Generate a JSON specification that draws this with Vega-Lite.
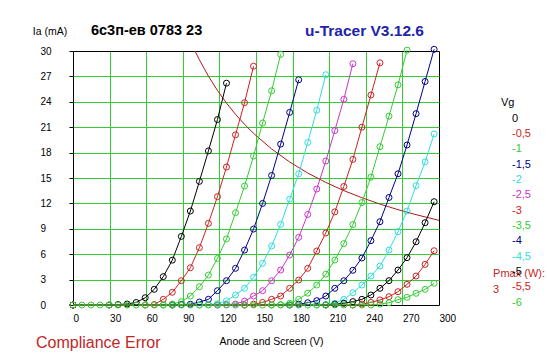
{
  "$schema": "https://vega.github.io/schema/vega-lite/v6.json",
  "width": 366,
  "height": 254,
  "autosize": "none",
  "padding": {"left": 73, "top": 51, "right": 108, "bottom": 52},
  "background": "white",
  "datasets": {
    "pmax": [
      {"V": 100, "Ia": 30}, {"V": 103.6, "Ia": 28.96}, {"V": 111, "Ia": 27.03}, {"V": 118.4, "Ia": 25.34},
      {"V": 125.8, "Ia": 23.85}, {"V": 133.2, "Ia": 22.52}, {"V": 140.6, "Ia": 21.34}, {"V": 148, "Ia": 20.27},
      {"V": 162.8, "Ia": 18.43}, {"V": 177.6, "Ia": 16.89}, {"V": 192.4, "Ia": 15.59}, {"V": 207.2, "Ia": 14.48},
      {"V": 222, "Ia": 13.51}, {"V": 236.8, "Ia": 12.67}, {"V": 251.6, "Ia": 11.92}, {"V": 266.4, "Ia": 11.26},
      {"V": 281.2, "Ia": 10.67}, {"V": 296, "Ia": 10.14}, {"V": 300, "Ia": 10.0}
    ],
    "curves": [
      {"Vg": "0", "V": 0, "Ia": 0}, {"Vg": "0", "V": 29.6, "Ia": 0}, {"Vg": "0", "V": 37, "Ia": 0.05}, {"Vg": "0", "V": 44.4, "Ia": 0.12},
      {"Vg": "0", "V": 51.8, "Ia": 0.3}, {"Vg": "0", "V": 59.2, "Ia": 0.86}, {"Vg": "0", "V": 66.6, "Ia": 1.85}, {"Vg": "0", "V": 74, "Ia": 3.35},
      {"Vg": "0", "V": 81.4, "Ia": 5.3}, {"Vg": "0", "V": 88.8, "Ia": 8.1}, {"Vg": "0", "V": 96.2, "Ia": 11.1}, {"Vg": "0", "V": 103.6, "Ia": 14.6},
      {"Vg": "0", "V": 111, "Ia": 18.2}, {"Vg": "0", "V": 118.4, "Ia": 21.9}, {"Vg": "0", "V": 125.8, "Ia": 26.2},

      {"Vg": "-0,5", "V": 0, "Ia": 0}, {"Vg": "-0,5", "V": 59.2, "Ia": 0}, {"Vg": "-0,5", "V": 66.6, "Ia": 0.05}, {"Vg": "-0,5", "V": 74, "Ia": 0.67},
      {"Vg": "-0,5", "V": 81.4, "Ia": 1.5}, {"Vg": "-0,5", "V": 88.8, "Ia": 2.87}, {"Vg": "-0,5", "V": 96.2, "Ia": 4.4}, {"Vg": "-0,5", "V": 103.6, "Ia": 6.77},
      {"Vg": "-0,5", "V": 111, "Ia": 9.64}, {"Vg": "-0,5", "V": 118.4, "Ia": 12.8}, {"Vg": "-0,5", "V": 125.8, "Ia": 16.3}, {"Vg": "-0,5", "V": 133.2, "Ia": 20.1},
      {"Vg": "-0,5", "V": 140.6, "Ia": 23.9}, {"Vg": "-0,5", "V": 148, "Ia": 28.2},

      {"Vg": "-1", "V": 0, "Ia": 0}, {"Vg": "-1", "V": 74, "Ia": 0}, {"Vg": "-1", "V": 81.4, "Ia": 0.1}, {"Vg": "-1", "V": 88.8, "Ia": 0.39},
      {"Vg": "-1", "V": 96.2, "Ia": 1.06}, {"Vg": "-1", "V": 103.6, "Ia": 2.16}, {"Vg": "-1", "V": 111, "Ia": 3.54}, {"Vg": "-1", "V": 118.4, "Ia": 5.5},
      {"Vg": "-1", "V": 125.8, "Ia": 7.8}, {"Vg": "-1", "V": 133.2, "Ia": 10.9}, {"Vg": "-1", "V": 140.6, "Ia": 14.05}, {"Vg": "-1", "V": 148, "Ia": 17.6},
      {"Vg": "-1", "V": 155.4, "Ia": 21.5}, {"Vg": "-1", "V": 162.8, "Ia": 25.3}, {"Vg": "-1", "V": 170.2, "Ia": 29.6},

      {"Vg": "-1,5", "V": 0, "Ia": 0}, {"Vg": "-1,5", "V": 81.4, "Ia": 0}, {"Vg": "-1,5", "V": 88.8, "Ia": 0.05}, {"Vg": "-1,5", "V": 96.2, "Ia": 0.1},
      {"Vg": "-1,5", "V": 103.6, "Ia": 0.35}, {"Vg": "-1,5", "V": 111, "Ia": 0.67}, {"Vg": "-1,5", "V": 118.4, "Ia": 1.69}, {"Vg": "-1,5", "V": 125.8, "Ia": 2.87},
      {"Vg": "-1,5", "V": 133.2, "Ia": 4.33}, {"Vg": "-1,5", "V": 140.6, "Ia": 6.49}, {"Vg": "-1,5", "V": 148, "Ia": 8.97}, {"Vg": "-1,5", "V": 155.4, "Ia": 12.0},
      {"Vg": "-1,5", "V": 162.8, "Ia": 15.3}, {"Vg": "-1,5", "V": 170.2, "Ia": 19.0}, {"Vg": "-1,5", "V": 177.6, "Ia": 22.75}, {"Vg": "-1,5", "V": 185, "Ia": 26.6},

      {"Vg": "-2", "V": 0, "Ia": 0}, {"Vg": "-2", "V": 103.6, "Ia": 0}, {"Vg": "-2", "V": 111, "Ia": 0.05}, {"Vg": "-2", "V": 118.4, "Ia": 0.15},
      {"Vg": "-2", "V": 125.8, "Ia": 0.5}, {"Vg": "-2", "V": 133.2, "Ia": 1.18}, {"Vg": "-2", "V": 140.6, "Ia": 1.97}, {"Vg": "-2", "V": 148, "Ia": 3.27},
      {"Vg": "-2", "V": 155.4, "Ia": 4.92}, {"Vg": "-2", "V": 162.8, "Ia": 6.97}, {"Vg": "-2", "V": 170.2, "Ia": 9.53}, {"Vg": "-2", "V": 177.6, "Ia": 12.5},
      {"Vg": "-2", "V": 185, "Ia": 15.5}, {"Vg": "-2", "V": 192.4, "Ia": 19.2}, {"Vg": "-2", "V": 199.8, "Ia": 23.0}, {"Vg": "-2", "V": 207.2, "Ia": 27.2},

      {"Vg": "-2,5", "V": 0, "Ia": 0}, {"Vg": "-2,5", "V": 118.4, "Ia": 0}, {"Vg": "-2,5", "V": 125.8, "Ia": 0.05}, {"Vg": "-2,5", "V": 133.2, "Ia": 0.12},
      {"Vg": "-2,5", "V": 140.6, "Ia": 0.45}, {"Vg": "-2,5", "V": 148, "Ia": 1.06}, {"Vg": "-2,5", "V": 155.4, "Ia": 1.69}, {"Vg": "-2,5", "V": 162.8, "Ia": 2.87},
      {"Vg": "-2,5", "V": 170.2, "Ia": 4.13}, {"Vg": "-2,5", "V": 177.6, "Ia": 5.9}, {"Vg": "-2,5", "V": 185, "Ia": 7.99}, {"Vg": "-2,5", "V": 192.4, "Ia": 10.7},
      {"Vg": "-2,5", "V": 199.8, "Ia": 13.7}, {"Vg": "-2,5", "V": 207.2, "Ia": 17.0}, {"Vg": "-2,5", "V": 214.6, "Ia": 20.6}, {"Vg": "-2,5", "V": 222, "Ia": 24.3},
      {"Vg": "-2,5", "V": 229.4, "Ia": 28.5},

      {"Vg": "-3", "V": 0, "Ia": 0}, {"Vg": "-3", "V": 140.6, "Ia": 0}, {"Vg": "-3", "V": 148, "Ia": 0.1}, {"Vg": "-3", "V": 155.4, "Ia": 0.3},
      {"Vg": "-3", "V": 162.8, "Ia": 0.67}, {"Vg": "-3", "V": 170.2, "Ia": 1.06}, {"Vg": "-3", "V": 177.6, "Ia": 1.97}, {"Vg": "-3", "V": 185, "Ia": 2.95},
      {"Vg": "-3", "V": 192.4, "Ia": 4.33}, {"Vg": "-3", "V": 199.8, "Ia": 6.38}, {"Vg": "-3", "V": 207.2, "Ia": 8.5}, {"Vg": "-3", "V": 214.6, "Ia": 11.0},
      {"Vg": "-3", "V": 222, "Ia": 14.0}, {"Vg": "-3", "V": 229.4, "Ia": 17.2}, {"Vg": "-3", "V": 236.8, "Ia": 21.0}, {"Vg": "-3", "V": 244.2, "Ia": 24.8},
      {"Vg": "-3", "V": 251.6, "Ia": 28.6},

      {"Vg": "-3,5", "V": 0, "Ia": 0}, {"Vg": "-3,5", "V": 162.8, "Ia": 0}, {"Vg": "-3,5", "V": 170.2, "Ia": 0.05}, {"Vg": "-3,5", "V": 177.6, "Ia": 0.2},
      {"Vg": "-3,5", "V": 185, "Ia": 0.67}, {"Vg": "-3,5", "V": 192.4, "Ia": 1.4}, {"Vg": "-3,5", "V": 199.8, "Ia": 2.36}, {"Vg": "-3,5", "V": 207.2, "Ia": 3.64},
      {"Vg": "-3,5", "V": 214.6, "Ia": 5.31}, {"Vg": "-3,5", "V": 222, "Ia": 7.25}, {"Vg": "-3,5", "V": 229.4, "Ia": 9.5}, {"Vg": "-3,5", "V": 236.8, "Ia": 12.1},
      {"Vg": "-3,5", "V": 244.2, "Ia": 15.1}, {"Vg": "-3,5", "V": 251.6, "Ia": 18.7}, {"Vg": "-3,5", "V": 259, "Ia": 22.3}, {"Vg": "-3,5", "V": 266.4, "Ia": 26.0},
      {"Vg": "-3,5", "V": 273.8, "Ia": 30.1},

      {"Vg": "-4", "V": 0, "Ia": 0}, {"Vg": "-4", "V": 177.6, "Ia": 0}, {"Vg": "-4", "V": 185, "Ia": 0.1}, {"Vg": "-4", "V": 192.4, "Ia": 0.27},
      {"Vg": "-4", "V": 199.8, "Ia": 0.51}, {"Vg": "-4", "V": 207.2, "Ia": 1.06}, {"Vg": "-4", "V": 214.6, "Ia": 1.97}, {"Vg": "-4", "V": 222, "Ia": 2.87},
      {"Vg": "-4", "V": 229.4, "Ia": 4.1}, {"Vg": "-4", "V": 236.8, "Ia": 5.55}, {"Vg": "-4", "V": 244.2, "Ia": 7.6}, {"Vg": "-4", "V": 251.6, "Ia": 9.84},
      {"Vg": "-4", "V": 259, "Ia": 12.7}, {"Vg": "-4", "V": 266.4, "Ia": 15.5}, {"Vg": "-4", "V": 273.8, "Ia": 18.9}, {"Vg": "-4", "V": 281.2, "Ia": 22.6},
      {"Vg": "-4", "V": 288.6, "Ia": 26.4}, {"Vg": "-4", "V": 296, "Ia": 30.2},

      {"Vg": "-4,5", "V": 0, "Ia": 0}, {"Vg": "-4,5", "V": 199.8, "Ia": 0}, {"Vg": "-4,5", "V": 207.2, "Ia": 0.05}, {"Vg": "-4,5", "V": 214.6, "Ia": 0.2},
      {"Vg": "-4,5", "V": 222, "Ia": 0.67}, {"Vg": "-4,5", "V": 229.4, "Ia": 1.45}, {"Vg": "-4,5", "V": 236.8, "Ia": 2.36}, {"Vg": "-4,5", "V": 244.2, "Ia": 3.42},
      {"Vg": "-4,5", "V": 251.6, "Ia": 4.6}, {"Vg": "-4,5", "V": 259, "Ia": 6.49}, {"Vg": "-4,5", "V": 266.4, "Ia": 8.66}, {"Vg": "-4,5", "V": 273.8, "Ia": 11.1},
      {"Vg": "-4,5", "V": 281.2, "Ia": 14.1}, {"Vg": "-4,5", "V": 288.6, "Ia": 16.9}, {"Vg": "-4,5", "V": 296, "Ia": 20.2},

      {"Vg": "-5", "V": 0, "Ia": 0}, {"Vg": "-5", "V": 207.2, "Ia": 0}, {"Vg": "-5", "V": 214.6, "Ia": 0.1}, {"Vg": "-5", "V": 222, "Ia": 0.2},
      {"Vg": "-5", "V": 229.4, "Ia": 0.4}, {"Vg": "-5", "V": 236.8, "Ia": 0.67}, {"Vg": "-5", "V": 244.2, "Ia": 1.18}, {"Vg": "-5", "V": 251.6, "Ia": 1.97},
      {"Vg": "-5", "V": 259, "Ia": 2.87}, {"Vg": "-5", "V": 266.4, "Ia": 4.13}, {"Vg": "-5", "V": 273.8, "Ia": 5.59}, {"Vg": "-5", "V": 281.2, "Ia": 7.47},
      {"Vg": "-5", "V": 288.6, "Ia": 9.72}, {"Vg": "-5", "V": 296, "Ia": 12.2},

      {"Vg": "-5,5", "V": 0, "Ia": 0}, {"Vg": "-5,5", "V": 229.4, "Ia": 0}, {"Vg": "-5,5", "V": 236.8, "Ia": 0.1}, {"Vg": "-5,5", "V": 244.2, "Ia": 0.3},
      {"Vg": "-5,5", "V": 251.6, "Ia": 0.6}, {"Vg": "-5,5", "V": 259, "Ia": 0.98}, {"Vg": "-5,5", "V": 266.4, "Ia": 1.57}, {"Vg": "-5,5", "V": 273.8, "Ia": 2.44},
      {"Vg": "-5,5", "V": 281.2, "Ia": 3.42}, {"Vg": "-5,5", "V": 288.6, "Ia": 4.8}, {"Vg": "-5,5", "V": 296, "Ia": 6.41},

      {"Vg": "-6", "V": 0, "Ia": 0}, {"Vg": "-6", "V": 7.4, "Ia": 0}, {"Vg": "-6", "V": 14.8, "Ia": 0}, {"Vg": "-6", "V": 22.2, "Ia": 0},
      {"Vg": "-6", "V": 29.6, "Ia": 0}, {"Vg": "-6", "V": 37, "Ia": 0}, {"Vg": "-6", "V": 44.4, "Ia": 0}, {"Vg": "-6", "V": 51.8, "Ia": 0},
      {"Vg": "-6", "V": 59.2, "Ia": 0}, {"Vg": "-6", "V": 66.6, "Ia": 0}, {"Vg": "-6", "V": 74, "Ia": 0}, {"Vg": "-6", "V": 81.4, "Ia": 0},
      {"Vg": "-6", "V": 88.8, "Ia": 0}, {"Vg": "-6", "V": 96.2, "Ia": 0}, {"Vg": "-6", "V": 103.6, "Ia": 0}, {"Vg": "-6", "V": 111, "Ia": 0},
      {"Vg": "-6", "V": 118.4, "Ia": 0}, {"Vg": "-6", "V": 125.8, "Ia": 0}, {"Vg": "-6", "V": 133.2, "Ia": 0}, {"Vg": "-6", "V": 140.6, "Ia": 0},
      {"Vg": "-6", "V": 148, "Ia": 0}, {"Vg": "-6", "V": 155.4, "Ia": 0}, {"Vg": "-6", "V": 162.8, "Ia": 0}, {"Vg": "-6", "V": 170.2, "Ia": 0},
      {"Vg": "-6", "V": 177.6, "Ia": 0}, {"Vg": "-6", "V": 185, "Ia": 0}, {"Vg": "-6", "V": 192.4, "Ia": 0}, {"Vg": "-6", "V": 199.8, "Ia": 0},
      {"Vg": "-6", "V": 207.2, "Ia": 0}, {"Vg": "-6", "V": 214.6, "Ia": 0}, {"Vg": "-6", "V": 222, "Ia": 0}, {"Vg": "-6", "V": 229.4, "Ia": 0},
      {"Vg": "-6", "V": 236.8, "Ia": 0}, {"Vg": "-6", "V": 244.2, "Ia": 0}, {"Vg": "-6", "V": 251.6, "Ia": 0.1}, {"Vg": "-6", "V": 259, "Ia": 0.27},
      {"Vg": "-6", "V": 266.4, "Ia": 0.63}, {"Vg": "-6", "V": 273.8, "Ia": 0.91}, {"Vg": "-6", "V": 281.2, "Ia": 1.38}, {"Vg": "-6", "V": 288.6, "Ia": 1.85},
      {"Vg": "-6", "V": 296, "Ia": 2.56}
    ]
  },
  "layer": [
    {
      "data": {"name": "pmax"},
      "mark": {"type": "line", "color": "#b01818", "strokeWidth": 1},
      "encoding": {
        "x": {"field": "V", "type": "quantitative", "scale": {"domain": [0, 300], "nice": false, "zero": false},
          "axis": {"title": "Anode and Screen (V)", "values": [0, 30, 60, 90, 120, 150, 180, 210, 240, 270, 300]}},
        "y": {"field": "Ia", "type": "quantitative", "scale": {"domain": [0, 30], "nice": false, "zero": false},
          "axis": {"title": "Ia (mA)", "values": [0, 3, 6, 9, 12, 15, 18, 21, 24, 27, 30]}}
      }
    },
    {
      "data": {"name": "curves"},
      "mark": {"type": "line", "strokeWidth": 1},
      "encoding": {
        "x": {"field": "V", "type": "quantitative", "scale": {"domain": [0, 300], "nice": false, "zero": false},
          "axis": {"title": "Anode and Screen (V)", "values": [0, 30, 60, 90, 120, 150, 180, 210, 240, 270, 300]}},
        "y": {"field": "Ia", "type": "quantitative", "scale": {"domain": [0, 30], "nice": false, "zero": false},
          "axis": {"title": "Ia (mA)", "values": [0, 3, 6, 9, 12, 15, 18, 21, 24, 27, 30]}},
        "color": {
          "field": "Vg", "type": "nominal",
          "scale": {
            "domain": ["0", "-0,5", "-1", "-1,5", "-2", "-2,5", "-3", "-3,5", "-4", "-4,5", "-5", "-5,5", "-6"],
            "range": ["#000000", "#cc2222", "#33cc33", "#000088", "#33dddd", "#cc33cc", "#cc2222", "#33cc33", "#000088", "#33dddd", "#000000", "#cc2222", "#33cc33"]
          },
          "legend": {
            "title": "Vg", "orient": "none", "legendX": 428, "legendY": 46, "padding": 0,
            "titleFontSize": 11, "titleFontWeight": "normal", "titleColor": "#000000", "titlePadding": 5, "titleFont": "Liberation Sans",
            "labelFontSize": 11, "labelFont": "Liberation Sans", "labelOffset": 0,
            "labelColor": {"expr": "scale('color', datum.value)"},
            "symbolSize": 0, "symbolOpacity": 0, "symbolStrokeWidth": 0, "symbolType": "circle",
            "rowPadding": 3.35
          }
        }
      }
    },
    {
      "data": {"name": "curves"},
      "mark": {"type": "point", "shape": "circle", "filled": false, "size": 36, "strokeWidth": 1, "opacity": 1},
      "encoding": {
        "x": {"field": "V", "type": "quantitative", "scale": {"domain": [0, 300], "nice": false, "zero": false},
          "axis": {"title": "Anode and Screen (V)", "values": [0, 30, 60, 90, 120, 150, 180, 210, 240, 270, 300]}},
        "y": {"field": "Ia", "type": "quantitative", "scale": {"domain": [0, 30], "nice": false, "zero": false},
          "axis": {"title": "Ia (mA)", "values": [0, 3, 6, 9, 12, 15, 18, 21, 24, 27, 30]}},
        "color": {"field": "Vg", "type": "nominal"}
      }
    },
    {
      "data": {"values": [{"t": "6с3п-ев 0783 23"}]},
      "mark": {"type": "text", "align": "left", "baseline": "middle", "font": "Liberation Sans", "fontSize": 14.5, "fontWeight": "bold", "color": "#000000"},
      "encoding": {
        "x": {"datum": 14.75, "type": "quantitative", "axis": {"title": "Anode and Screen (V)", "values": [0, 30, 60, 90, 120, 150, 180, 210, 240, 270, 300]}},
        "y": {"datum": 32.35, "type": "quantitative", "axis": {"title": "Ia (mA)", "values": [0, 3, 6, 9, 12, 15, 18, 21, 24, 27, 30]}},
        "text": {"field": "t"}
      }
    },
    {
      "data": {"values": [{"t": "u-Tracer V3.12.6"}]},
      "mark": {"type": "text", "align": "left", "baseline": "middle", "font": "Liberation Sans", "fontSize": 15.5, "fontWeight": "bold", "color": "#2222aa"},
      "encoding": {
        "x": {"datum": 190.2, "type": "quantitative", "axis": {"title": "Anode and Screen (V)", "values": [0, 30, 60, 90, 120, 150, 180, 210, 240, 270, 300]}},
        "y": {"datum": 32.35, "type": "quantitative", "axis": {"title": "Ia (mA)", "values": [0, 3, 6, 9, 12, 15, 18, 21, 24, 27, 30]}},
        "text": {"field": "t"}
      }
    },
    {
      "data": {"values": [{"t": "Compliance Error"}]},
      "mark": {"type": "text", "align": "left", "baseline": "middle", "font": "Liberation Sans", "fontSize": 16, "color": "#c02828"},
      "encoding": {
        "x": {"datum": -30.3, "type": "quantitative", "axis": {"title": "Anode and Screen (V)", "values": [0, 30, 60, 90, 120, 150, 180, 210, 240, 270, 300]}},
        "y": {"datum": -4.49, "type": "quantitative", "axis": {"title": "Ia (mA)", "values": [0, 3, 6, 9, 12, 15, 18, 21, 24, 27, 30]}},
        "text": {"field": "t"}
      }
    },
    {
      "data": {"values": [{"t": "Pmax (W):"}]},
      "mark": {"type": "text", "align": "left", "baseline": "middle", "font": "Liberation Sans", "fontSize": 11, "color": "#c02828"},
      "encoding": {
        "x": {"datum": 344.3, "type": "quantitative", "axis": {"title": "Anode and Screen (V)", "values": [0, 30, 60, 90, 120, 150, 180, 210, 240, 270, 300]}},
        "y": {"datum": 3.66, "type": "quantitative", "axis": {"title": "Ia (mA)", "values": [0, 3, 6, 9, 12, 15, 18, 21, 24, 27, 30]}},
        "text": {"field": "t"}
      }
    },
    {
      "data": {"values": [{"t": "3"}]},
      "mark": {"type": "text", "align": "left", "baseline": "middle", "font": "Liberation Sans", "fontSize": 11, "color": "#c02828"},
      "encoding": {
        "x": {"datum": 344.3, "type": "quantitative", "axis": {"title": "Anode and Screen (V)", "values": [0, 30, 60, 90, 120, 150, 180, 210, 240, 270, 300]}},
        "y": {"datum": 1.77, "type": "quantitative", "axis": {"title": "Ia (mA)", "values": [0, 3, 6, 9, 12, 15, 18, 21, 24, 27, 30]}},
        "text": {"field": "t"}
      }
    }
  ],
  "config": {
    "font": "Liberation Sans",
    "view": {"stroke": null},
    "axis": {
      "domain": false, "grid": true, "gridOpacity": 1, "gridWidth": 1,
      "labelFont": "Liberation Sans", "labelFontSize": 10, "labelColor": "#000000",
      "labelFlush": false, "labelOverlap": false,
      "titleFont": "Liberation Sans", "titleFontSize": 10.5, "titleFontWeight": "normal", "titleColor": "#000000"
    },
    "axisX": {
      "ticks": false, "tickSize": 0, "labelPadding": 8, "labelAlign": "left", "labelDx": -2,
      "titleX": 198, "titleY": 36, "titleBaseline": "middle", "titleAlign": "center",
      "gridColor": {"condition": {"test": "datum.value == 0 || datum.value == 300", "value": "#000000"}, "value": "#33cc33"}
    },
    "axisY": {
      "ticks": true, "tickSize": 4, "tickColor": "#000000", "labelPadding": 29, "labelAlign": "left", "labelDy": 2,
      "titleAngle": 0, "titleX": -23.5, "titleY": -20, "titleAlign": "center", "titleBaseline": "middle",
      "gridColor": {"condition": {"test": "datum.value == 0 || datum.value == 30", "value": "#000000"}, "value": "#33cc33"}
    }
  }
}
